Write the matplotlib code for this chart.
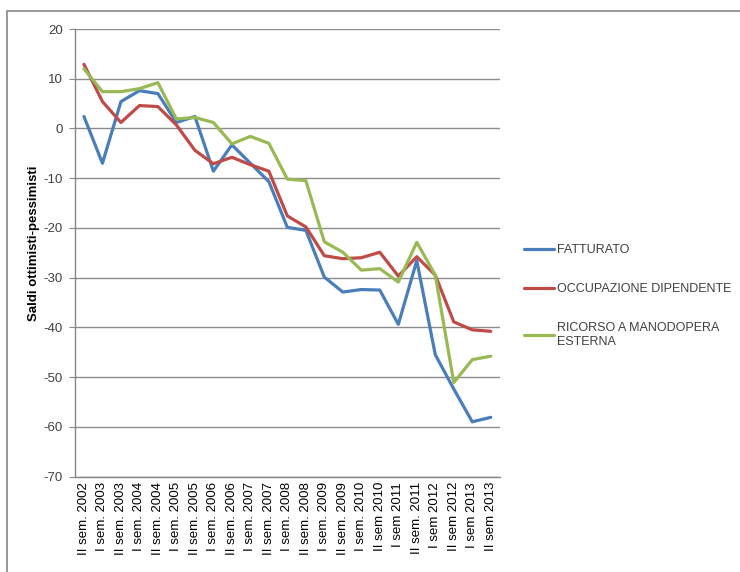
import matplotlib
matplotlib.use("Agg")
import matplotlib.pyplot as plt
from matplotlib.patches import Rectangle

plt.rcParams['font.family'] = ['Liberation Sans', 'DejaVu Sans']
plt.rcParams['axes.unicode_minus'] = False

periods = [
    "II sem. 2002", "I sem. 2003", "II sem. 2003", "I sem. 2004", "II sem. 2004",
    "I sem. 2005", "II sem. 2005", "I sem. 2006", "II sem. 2006", "I sem. 2007",
    "II sem. 2007", "I sem. 2008", "II sem. 2008", "I sem. 2009", "II sem. 2009",
    "I sem. 2010", "II sem 2010", "I sem 2011", "II sem. 2011", "I sem 2012",
    "II sem 2012", "I sem 2013", "II sem 2013",
]

fatturato = [2.4, -7.0, 5.4, 7.6, 7.0, 1.2, 2.4, -8.6, -3.3, -7.0, -10.7, -19.9,
             -20.5, -29.9, -32.9, -32.4, -32.5, -39.4, -26.6, -45.5, -52.4, -59.0, -58.1]
occupazione = [12.9, 5.4, 1.2, 4.6, 4.4, 0.7, -4.4, -7.1, -5.8, -7.3, -8.6, -17.6,
               -19.8, -25.6, -26.2, -26.0, -24.9, -29.7, -25.8, -29.5, -38.9, -40.5, -40.8]
ricorso = [12.0, 7.4, 7.4, 8.0, 9.2, 1.9, 2.2, 1.2, -3.1, -1.6, -3.0, -10.2,
           -10.5, -22.8, -24.9, -28.5, -28.2, -30.9, -22.9, -29.5, -51.1, -46.5, -45.8]

series = [
    ("FATTURATO", fatturato, "#4A7EBB"),
    ("OCCUPAZIONE DIPENDENTE", occupazione, "#BE4B48"),
    ("RICORSO A MANODOPERA\nESTERNA", ricorso, "#98B954"),
]

W, H = 740, 572
fig = plt.figure(figsize=(W / 100, H / 100), dpi=100)

# outer chart frame
fig.patches.append(Rectangle((7 / W, -0.05), 1.1, (H - 10.7) / H + 0.05, transform=fig.transFigure,
                             fill=False, edgecolor="#868686", linewidth=1.2, zorder=0))

left, right, top, bottom = 74.7, 500, 29, 476.5
ax = fig.add_axes([left / W, 1 - bottom / H, (right - left) / W, (bottom - top) / H])

x = list(range(len(periods)))
for name, vals, color in series:
    ax.plot(x, vals, color=color, linewidth=2.3, label=name, solid_capstyle="round",
            solid_joinstyle="round")

ax.set_xlim(-0.5, len(periods) - 0.5)
ax.set_ylim(-70, 20)
ax.set_yticks(range(-70, 21, 10))
ax.yaxis.grid(True, color="#8C8C8C", linewidth=1.0)
ax.set_axisbelow(True)

ax.set_xticks(x)
ax.set_xticklabels(periods, rotation=90, fontsize=9.5, color="black")
ax.tick_params(axis="x", length=0, pad=4)
ax.tick_params(axis="y", length=4, color="#868686", labelsize=9.5, labelcolor="#404040", pad=4.4)

for side in ("top", "right"):
    ax.spines[side].set_visible(False)
for side in ("left", "bottom"):
    ax.spines[side].set_color("#868686")
    ax.spines[side].set_linewidth(1.0)

ax.set_ylabel("Saldi ottimisti-pessimisti", fontsize=9.5, fontweight="bold")
ax.yaxis.set_label_coords((40 - left) / (right - left), (bottom - 243) / (bottom - top))

leg = fig.legend(loc="upper left", bbox_to_anchor=(513 / W, 1 - 233 / H), frameon=False,
                 fontsize=9, handlelength=2.4, handletextpad=0.2, labelspacing=2.15)
for t in leg.get_texts():
    t.set_color("#404040")

fig.savefig("out.png", dpi=100)
